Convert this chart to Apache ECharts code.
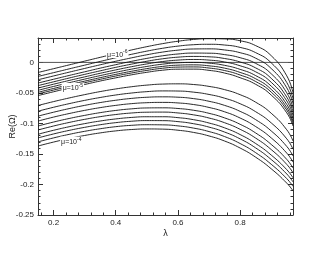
<!DOCTYPE html>
<html>
<head>
<meta charset="utf-8">
<script src="https://cdn.jsdelivr.net/npm/echarts@6/dist/echarts.min.js"></script>
<style>html,body{margin:0;padding:0;background:#fff;}#c{width:330px;height:255px;}</style>
</head>
<body>
<div id="c"></div>
<script>
// λ sample positions
const lambda = [0.15, 0.2, 0.25, 0.3, 0.35, 0.4, 0.45, 0.5, 0.55, 0.6, 0.65, 0.7, 0.75, 0.8, 0.85, 0.9, 0.95, 0.97];

// upper family (μ = 10^-6 ... 10^-5)
const U1  = [-0.0165, -0.0103, -0.0041, 0.0021, 0.0083, 0.0144, 0.0203, 0.0258, 0.0307, 0.0347, 0.0376, 0.0389, 0.0385, 0.0355, 0.0275, 0.011, -0.022, -0.050];
const U2  = [-0.023, -0.0168, -0.0106, -0.0045, 0.0016, 0.0076, 0.0132, 0.0185, 0.0231, 0.0267, 0.029, 0.0297, 0.0285, 0.0246, 0.016, -0.0007, -0.0329, -0.0597];
const U3  = [-0.0284, -0.0222, -0.016, -0.0099, -0.0039, 0.0019, 0.0074, 0.0125, 0.0169, 0.0201, 0.022, 0.0222, 0.0204, 0.0159, 0.0069, -0.01, -0.0416, -0.0675];
const U4  = [-0.0338, -0.0276, -0.0214, -0.0154, -0.0094, -0.0037, 0.0017, 0.0066, 0.0108, 0.0138, 0.0153, 0.0151, 0.0128, 0.0077, -0.0016, -0.0186, -0.0498, -0.0749];
const U5  = [-0.038, -0.0318, -0.0256, -0.0196, -0.0138, -0.0081, -0.0029, 0.0019, 0.0059, 0.0086, 0.0098, 0.0092, 0.0064, 0.0007, -0.009, -0.0261, -0.0568, -0.0811];
const U6  = [-0.042, -0.0357, -0.0296, -0.0237, -0.0178, -0.0123, -0.0071, -0.0025, 0.0014, 0.0038, 0.0048, 0.0038, 0.0007, -0.0055, -0.0154, -0.0326, -0.063, -0.0866];
const U7  = [-0.0457, -0.0394, -0.0333, -0.0274, -0.0216, -0.0162, -0.0111, -0.0066, -0.0029, -0.0006, 0, -0.0012, -0.0048, -0.0114, -0.0216, -0.0389, -0.0689, -0.0919];
const U8  = [-0.049, -0.0427, -0.0366, -0.0307, -0.025, -0.0196, -0.0146, -0.0102, -0.0066, -0.0045, -0.004, -0.0056, -0.0094, -0.0164, -0.0268, -0.0442, -0.0739, -0.0964];
const U9  = [-0.0516, -0.0453, -0.0392, -0.0333, -0.0277, -0.0223, -0.0174, -0.0131, -0.0096, -0.0077, -0.0074, -0.0092, -0.0133, -0.0206, -0.0313, -0.0487, -0.0781, -0.1002];
const U10 = [-0.0544, -0.0481, -0.042, -0.0362, -0.0305, -0.0253, -0.0204, -0.0162, -0.0128, -0.0111, -0.011, -0.013, -0.0174, -0.0251, -0.0359, -0.0535, -0.0826, -0.1042];

// lower family (μ = 10^-5 ... 10^-4)
const L1  = [-0.0706, -0.0642, -0.0583, -0.0528, -0.0478, -0.0435, -0.0399, -0.0372, -0.0355, -0.0351, -0.0362, -0.0393, -0.0446, -0.0529, -0.0652, -0.0833, -0.1104, -0.1288];
const L2  = [-0.0799, -0.0735, -0.0676, -0.0622, -0.0575, -0.0534, -0.0502, -0.0479, -0.0467, -0.0469, -0.0487, -0.0525, -0.0586, -0.0677, -0.0808, -0.0991, -0.1252, -0.1421];
const L3  = [-0.088, -0.0816, -0.0757, -0.0704, -0.0658, -0.062, -0.059, -0.0571, -0.0564, -0.057, -0.0593, -0.0637, -0.0704, -0.0802, -0.0938, -0.1123, -0.1377, -0.1533];
const L4  = [-0.0961, -0.0896, -0.0838, -0.0786, -0.0741, -0.0704, -0.0676, -0.066, -0.0655, -0.0664, -0.069, -0.0738, -0.0809, -0.0911, -0.1051, -0.1237, -0.1486, -0.1634];
const L5  = [-0.1042, -0.0977, -0.0919, -0.0868, -0.0823, -0.0787, -0.0761, -0.0746, -0.0744, -0.0755, -0.0784, -0.0834, -0.0909, -0.1014, -0.1156, -0.1344, -0.1589, -0.1731];
const L6  = [-0.1107, -0.1042, -0.0984, -0.0933, -0.0889, -0.0854, -0.0829, -0.0816, -0.0814, -0.0828, -0.0859, -0.0911, -0.0988, -0.1096, -0.124, -0.1428, -0.1671, -0.1808];
const L7  = [-0.1177, -0.1112, -0.1054, -0.1003, -0.096, -0.0926, -0.0902, -0.089, -0.089, -0.0905, -0.0938, -0.0993, -0.1072, -0.1182, -0.1329, -0.1518, -0.1757, -0.189];
const L8  = [-0.1237, -0.1172, -0.1114, -0.1064, -0.1021, -0.0987, -0.0964, -0.0953, -0.0954, -0.097, -0.1004, -0.106, -0.1141, -0.1253, -0.1401, -0.1591, -0.1828, -0.1958];
const L9  = [-0.1302, -0.1237, -0.1179, -0.1129, -0.1087, -0.1053, -0.1031, -0.1021, -0.1023, -0.104, -0.1076, -0.1133, -0.1215, -0.1329, -0.1479, -0.1669, -0.1904, -0.2031];
const L10 = [-0.137, -0.1305, -0.1247, -0.1197, -0.1155, -0.1122, -0.11, -0.109, -0.1093, -0.1111, -0.1147, -0.1205, -0.1288, -0.1403, -0.1553, -0.1743, -0.1978, -0.2103];

const curves = [U1,U2,U3,U4,U5,U6,U7,U8,U9,U10,L1,L2,L3,L4,L5,L6,L7,L8,L9,L10];

// reference line Re(Ω)=0
const zeroLine = [0, 0];

// curve labels: curve index, λ, Re(Ω), exponent
const labelCurve = [0, 9, 19];
const labelLambda = [0.405, 0.262, 0.257];
const labelValue = [0.0145, -0.041, -0.129];
const labelExp = ['-6', '-5', '-4'];

// axes
const xMin = 0.15, xMax = 0.97;
const yMin = -0.25, yMax = 0.04;
const xMajor = [0.2, 0.4, 0.6, 0.8];
const xMinor = [0.16, 0.24, 0.28, 0.32, 0.36, 0.44, 0.48, 0.52, 0.56, 0.64, 0.68, 0.72, 0.76, 0.84, 0.88, 0.92, 0.96];
const yMajor = [-0.25, -0.2, -0.15, -0.1, -0.05, 0];
const yMinor = [-0.24,-0.23,-0.22,-0.21,-0.19,-0.18,-0.17,-0.16,-0.14,-0.13,-0.12,-0.11,-0.09,-0.08,-0.07,-0.06,-0.04,-0.03,-0.02,-0.01,0.01,0.02,0.03];

const FONT = 'Liberation Sans, Arial, Helvetica, sans-serif';
const lineCol = '#333';

function axis(kind, pos, ticks, len, showLine, showLabel, extra) {
  const a = {
    type: 'value', position: pos,
    min: kind === 'x' ? xMin : yMin, max: kind === 'x' ? xMax : yMax,
    axisLine: { show: showLine, onZero: false, lineStyle: { color: lineCol, width: 1 } },
    axisTick: { show: true, inside: true, length: len, customValues: ticks, lineStyle: { color: lineCol, width: 1 } },
    axisLabel: { show: showLabel, customValues: ticks, color: '#222', fontSize: 8, fontFamily: FONT, margin: 4 },
    splitLine: { show: false }
  };
  return Object.assign(a, extra || {});
}

const chart = echarts.init(document.getElementById('c'), null, { renderer: 'canvas' });

const series = curves.map((c, i) => {
  const s = {
    type: 'line', xAxisIndex: 0, yAxisIndex: 0,
    data: lambda.map((l, j) => [l, c[j]]),
    smooth: 0.5, symbol: 'none', silent: true,
    lineStyle: { color: '#111', width: 0.9 }
  };
  const k = labelCurve.indexOf(i);
  if (k >= 0) {
    s.markPoint = {
      symbol: 'rect', symbolSize: 0, silent: true,
      data: [{ coord: [labelLambda[k], labelValue[k]] }],
      label: {
        show: true, position: 'inside',
        formatter: '{a|μ=10}{s|' + labelExp[k] + '}',
        backgroundColor: '#fff', padding: [0, 1],
        rich: {
          a: { fontSize: 7, fontFamily: FONT, color: '#222', lineHeight: 9, verticalAlign: 'bottom' },
          s: { fontSize: 5, fontFamily: FONT, color: '#222', lineHeight: 9, verticalAlign: 'top' }
        }
      }
    };
  }
  return s;
});
series.push({
  type: 'line', xAxisIndex: 0, yAxisIndex: 0, silent: true,
  data: [[xMin, zeroLine[0]], [xMax, zeroLine[1]]],
  symbol: 'none', lineStyle: { color: '#555', width: 1 }, z: 1
});

chart.setOption({
  animation: false,
  backgroundColor: '#fff',
  grid: { left: 38, right: 37, top: 38, bottom: 40, containLabel: false, outerBoundsMode: 'none' },
  xAxis: [
    axis('x', 'bottom', xMajor, 5, true, true, {
      name: 'λ', nameLocation: 'middle', nameGap: 14, nameMoveOverlap: false,
      nameTextStyle: { fontSize: 9, fontFamily: FONT, color: '#222' }
    }),
    axis('x', 'bottom', xMinor, 2.5, false, false),
    axis('x', 'top', xMajor, 5, true, false),
    axis('x', 'top', xMinor, 2.5, false, false)
  ],
  yAxis: [
    axis('y', 'left', yMajor, 5, true, true, {
      name: 'Re(Ω)', nameLocation: 'middle', nameGap: 21, nameRotate: 90, nameMoveOverlap: false,
      nameTextStyle: { fontSize: 9, fontFamily: FONT, color: '#222' }
    }),
    axis('y', 'left', yMinor, 2.5, false, false),
    axis('y', 'right', yMajor, 5, true, false),
    axis('y', 'right', yMinor, 2.5, false, false)
  ],
  series: series
});
</script>
</body>
</html>
